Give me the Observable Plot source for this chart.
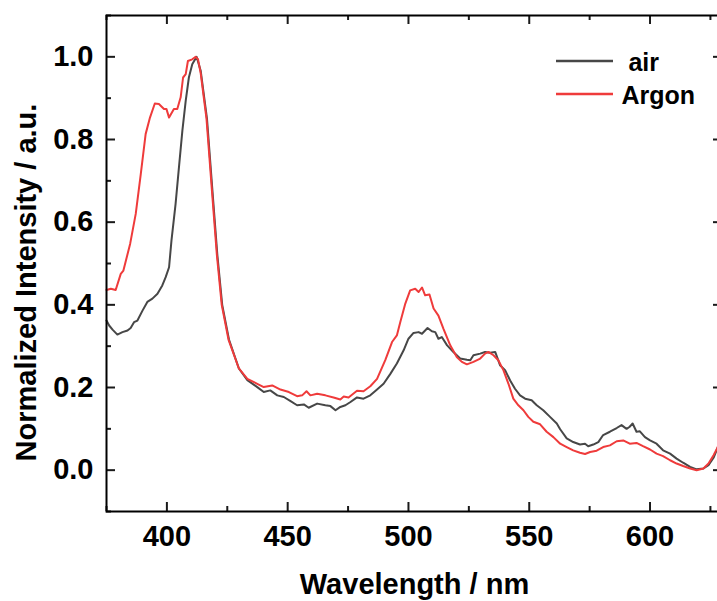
<!DOCTYPE html>
<html>
<head>
<meta charset="utf-8">
<script src="https://cdn.jsdelivr.net/npm/d3@7"></script>
<script src="https://cdn.jsdelivr.net/npm/@observablehq/plot@0.6"></script>
<style>
  html, body { margin: 0; padding: 0; background: white; overflow: hidden; }
  #wrap { position: relative; width: 717px; height: 601px; overflow: hidden; }
  #legend { position: absolute; left: 0; top: 0; }
</style>
</head>
<body>
<div id="wrap"></div>
<script>
// ---- data ----
const seriesNames = [" air", "Argon"];
const seriesColors = ["#474747", "#ef3b3b"];

const airNm = [375, 376.1, 377.5, 379.5, 381.6, 383.7, 385, 386.4, 387.8, 389.9, 391.9, 394, 396.1, 398.1, 399.5, 400.9, 401.9, 403.6, 405, 406.4, 407.8, 409.1, 410.5, 412.3, 414, 416.6, 418.8, 420.9, 422.9, 425.7, 429.8, 433.3, 437.4, 440.1, 442.8, 445.7, 448.4, 451.2, 453.9, 456.7, 458.7, 462.2, 465.6, 467.7, 469.8, 471.8, 473.9, 476, 478.7, 481.4, 484.2, 487, 489.7, 492.5, 495.2, 498, 500, 502.1, 504.2, 505.6, 507.9, 509.7, 511.1, 512.4, 513.8, 516, 518.6, 521.4, 524.2, 525.6, 526.9, 529.7, 531.7, 533.8, 535.9, 537.9, 540, 542.1, 544.1, 546.2, 548.3, 551, 553.1, 555.8, 558.6, 561.4, 562.8, 565.5, 568.2, 571, 573.1, 574.4, 576.5, 578.6, 580.6, 583.4, 586.2, 588.2, 590.3, 591.6, 592.8, 594.4, 595.8, 597.9, 600, 602.7, 605.4, 608.3, 611, 613.7, 616.6, 619.3, 622.1, 624.2, 626.3, 627.7, 630];
const airVal = [0.362, 0.35, 0.34, 0.328, 0.334, 0.338, 0.344, 0.358, 0.362, 0.386, 0.407, 0.415, 0.427, 0.447, 0.467, 0.491, 0.556, 0.644, 0.733, 0.821, 0.894, 0.95, 0.982, 1.0, 0.966, 0.85, 0.68, 0.52, 0.40, 0.316, 0.246, 0.218, 0.201, 0.189, 0.193, 0.181, 0.177, 0.167, 0.157, 0.159, 0.151, 0.161, 0.157, 0.155, 0.145, 0.153, 0.157, 0.165, 0.176, 0.173, 0.181, 0.195, 0.209, 0.233, 0.258, 0.29, 0.318, 0.332, 0.334, 0.33, 0.344, 0.336, 0.334, 0.318, 0.322, 0.302, 0.286, 0.27, 0.267, 0.266, 0.278, 0.282, 0.286, 0.284, 0.286, 0.254, 0.242, 0.217, 0.197, 0.181, 0.173, 0.169, 0.157, 0.145, 0.129, 0.113, 0.099, 0.077, 0.068, 0.062, 0.064, 0.058, 0.062, 0.068, 0.085, 0.093, 0.102, 0.109, 0.100, 0.105, 0.113, 0.093, 0.094, 0.080, 0.072, 0.064, 0.048, 0.040, 0.028, 0.018, 0.008, 0.002, 0.004, 0.012, 0.030, 0.050, 0.080];

const argonNm = [375, 376.8, 378.8, 380.9, 382, 384.8, 387.1, 389.2, 391.2, 393, 395, 396.7, 398.8, 399.8, 400.9, 402.9, 404.3, 405.7, 406.7, 407.8, 408.7, 410.5, 411.9, 412.9, 414, 416.4, 418.6, 420.7, 422.7, 425.5, 429.8, 433.3, 437.4, 440.1, 443.6, 447, 450.5, 453.9, 456, 457.8, 459.4, 462.2, 465.6, 469, 471.8, 473.2, 475.2, 478.7, 481.4, 484.2, 487, 490.4, 493.2, 495.2, 496.6, 498.7, 500.7, 502.8, 504.2, 505.6, 506.9, 508.7, 510.4, 512.4, 514.5, 517.3, 520, 522.1, 524.2, 526.9, 529.7, 531.7, 533.1, 535.2, 537.2, 539.3, 541.4, 543.4, 545.5, 547.6, 549.6, 551.7, 554.5, 557.2, 560, 562.8, 565.5, 568.2, 571, 573.1, 575.2, 577.9, 580.6, 583.4, 586.2, 588.9, 591.6, 594.4, 597.1, 600, 602.7, 605.4, 608.3, 611, 613.7, 616.6, 619.3, 622.1, 624.2, 626.3, 627.7, 630];
const argonVal = [0.436, 0.439, 0.436, 0.475, 0.483, 0.548, 0.62, 0.717, 0.813, 0.853, 0.887, 0.886, 0.874, 0.874, 0.853, 0.874, 0.874, 0.902, 0.95, 0.958, 0.99, 0.994, 1.0, 0.994, 0.96, 0.85, 0.68, 0.52, 0.40, 0.316, 0.246, 0.221, 0.209, 0.201, 0.205, 0.195, 0.189, 0.179, 0.181, 0.191, 0.181, 0.185, 0.181, 0.176, 0.171, 0.178, 0.176, 0.192, 0.191, 0.203, 0.221, 0.266, 0.31, 0.326, 0.358, 0.403, 0.435, 0.439, 0.431, 0.442, 0.423, 0.425, 0.391, 0.374, 0.342, 0.302, 0.274, 0.262, 0.256, 0.262, 0.27, 0.282, 0.286, 0.278, 0.266, 0.242, 0.209, 0.173, 0.157, 0.145, 0.129, 0.117, 0.111, 0.093, 0.08, 0.064, 0.056, 0.048, 0.042, 0.039, 0.044, 0.047, 0.056, 0.06, 0.07, 0.072, 0.064, 0.066, 0.058, 0.05, 0.04, 0.034, 0.024, 0.016, 0.01, 0.004, 0.0, 0.004, 0.016, 0.036, 0.052, 0.085];

const xMajor = [400, 450, 500, 550, 600];
const xMinor = [375, 425, 475, 525, 575, 625];
const yMajor = [0.0, 0.2, 0.4, 0.6, 0.8, 1.0];
const yMinor = [-0.1, 0.1, 0.3, 0.5, 0.7, 0.9, 1.1];
const xTitle = "Wavelength / nm";
const yTitle = "Normalized Intensity / a.u.";

// ---- build table ----
const rows = [];
airNm.forEach((nm, i) => rows.push({series: seriesNames[0], nm, v: airVal[i]}));
argonNm.forEach((nm, i) => rows.push({series: seriesNames[1], nm, v: argonVal[i]}));

const FONT = "'Liberation Sans', Arial, Helvetica, sans-serif";

// layout
const W = 740, H = 601, ML = 106, MR = 18, MT = 15, MB = 90;
const frameW = W - ML - MR, frameH = H - MT - MB;
const xDomain = [375, 630], yDomain = [-0.1, 1.1];

// inward ticks as short rules hugging each side of the frame
const TICK_COLOR = "#1a1a1a";
const tk = {stroke: TICK_COLOR, strokeWidth: 2};
const xTicks = (vals, len, side) => Plot.ruleX(vals, {...tk, x: d => d,
  insetTop: side === "bottom" ? frameH - len : 0, insetBottom: side === "top" ? frameH - len : 0});
const yTicks = (vals, len, side) => Plot.ruleY(vals, {...tk, y: d => d,
  insetRight: side === "left" ? frameW - len : 0, insetLeft: side === "right" ? frameW - len : 0});

const chart = Plot.plot({
  width: W,
  height: H,
  marginLeft: ML,
  marginRight: MR,
  marginTop: MT,
  marginBottom: MB,
  x: {domain: xDomain, axis: null, label: null},
  y: {domain: yDomain, axis: null, label: null},
  color: {domain: seriesNames, range: seriesColors},
  style: {fontFamily: FONT, fontWeight: "bold", fontSize: "29px", maxWidth: "none", background: "white", color: "black", overflow: "hidden"},
  marks: [
    Plot.line(rows, {x: "nm", y: "v", z: "series", stroke: "series", strokeWidth: 2, curve: "linear"}),
    xTicks(xMajor, 9, "bottom"),
    xTicks(xMinor, 5, "bottom"),
    xTicks(xMajor, 9, "top"),
    xTicks(xMinor, 5, "top"),
    yTicks(yMajor, 9, "left"),
    yTicks(yMinor, 5, "left"),
    yTicks(yMajor, 9, "right"),
    yTicks(yMinor, 5, "right"),
    // tick labels
    Plot.axisX({ticks: xMajor, anchor: "bottom", tickSize: 0, tickPadding: 14, label: null, fontSize: 29, fontWeight: "bold", tickFormat: d => String(d)}),
    Plot.axisY({ticks: yMajor, anchor: "left", tickSize: 0, tickPadding: 13, label: null, fontSize: 29, fontWeight: "bold", tickFormat: d => d.toFixed(1)}),
    // titles
    Plot.text([xTitle], {text: d => d, frameAnchor: "bottom", dy: 73, textAnchor: "middle", lineAnchor: "middle", fontSize: 29, fontWeight: "bold"}),
    Plot.text([yTitle], {text: d => d, frameAnchor: "left", dx: -80, dy: 19, rotate: -90, textAnchor: "middle", lineAnchor: "middle", fontSize: 29, fontWeight: "bold"}),
    Plot.frame({stroke: "black", strokeWidth: 2})
  ]
});

const wrap = document.getElementById("wrap");
wrap.appendChild(chart);

// ---- legend overlay ----
const ns = "http://www.w3.org/2000/svg";
const leg = document.createElementNS(ns, "svg");
leg.setAttribute("id", "legend");
leg.setAttribute("width", 717);
leg.setAttribute("height", 140);
const legY = [61, 94];
seriesNames.forEach((name, i) => {
  const ln = document.createElementNS(ns, "line");
  ln.setAttribute("x1", 556); ln.setAttribute("x2", 613);
  ln.setAttribute("y1", legY[i]); ln.setAttribute("y2", legY[i]);
  ln.setAttribute("stroke", seriesColors[i]);
  ln.setAttribute("stroke-width", 2.5);
  leg.appendChild(ln);
  const t = document.createElementNS(ns, "text");
  t.setAttribute("x", 621.5);
  t.setAttribute("y", legY[i] + 9.5);
  t.setAttribute("font-family", FONT);
  t.setAttribute("font-weight", "bold");
  t.setAttribute("font-size", 25);
  t.setAttribute("fill", "black");
  t.setAttribute("xml:space", "preserve");
  t.style.whiteSpace = "pre";
  t.textContent = name;
  leg.appendChild(t);
});
wrap.appendChild(leg);
</script>
</body>
</html>
